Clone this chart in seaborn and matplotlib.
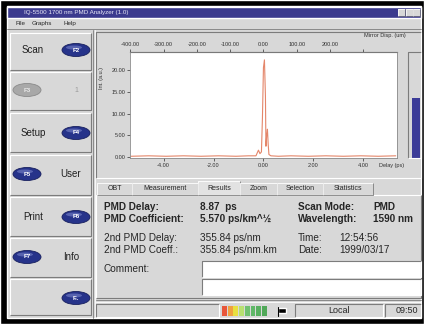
import matplotlib
matplotlib.use("Agg")
import matplotlib.pyplot as plt
from matplotlib.patches import Rectangle, Ellipse
import seaborn as sns
import pandas as pd

# interferogram: delay (ps) vs intensity (a.u.)
delay_ps = [-5.30, -4.60, -3.90, -3.20, -2.50, -1.80, -1.10, -0.60, -0.30, -0.20,
            -0.14, -0.08, -0.04, 0.00, 0.04, 0.08, 0.10, 0.13, 0.16, 0.19,
            0.22, 0.30, 0.60, 1.10, 1.80, 2.50, 3.20, 3.90, 4.60, 5.30]
intensity = [0.2, 0.3, 0.2, 0.3, 0.2, 0.3, 0.2, 0.3, 0.3, 1.6,
             0.8, 1.2, 9.0, 20.5, 22.3, 14.0, 2.5, 5.0, 6.4, 3.0,
             0.6, 0.3, 0.2, 0.3, 0.2, 0.3, 0.2, 0.3, 0.2, 0.3]

delay_ticks = [-4, -2, 0, 2, 4]
intensity_ticks = [0, 5, 10, 15, 20]
mirror_ticks = [-400, -300, -200, -100, 0, 100, 200, 300]
um_per_ps = 75.0

tab_names = ["OBT", "Measurement", "Results", "Zoom", "Selection", "Statistics"]
result_rows = [
    ("PMD Delay:", "8.87  ps", "Scan Mode:", "PMD"),
    ("PMD Coefficient:", "5.570 ps/km^½", "Wavelength:", "1590 nm"),
    ("2nd PMD Delay:", "355.84 ps/nm", "Time:", "12:54:56"),
    ("2nd PMD Coeff.:", "355.84 ps/nm.km", "Date:", "1999/03/17"),
]
side_buttons = [("Scan", "F2", "right"), ("", "F3", "left"), ("Setup", "F4", "right"),
                ("User", "F5", "left"), ("Print", "F6", "right"), ("Info", "F7", "left"),
                ("", "F..", "right")]
led_colors = ["#e8563a", "#f0a040", "#e8e040", "#b8e070", "#70c070", "#60b868", "#58b060", "#50a858"]

sns.set_style("white")
plt.rcParams["font.family"] = ["Liberation Sans", "DejaVu Sans"]

W, H = 424, 324
FACE = "#d8d8d8"
DARK = "#7c7c7c"

fig = plt.figure(figsize=(W / 100, H / 100), dpi=100)
bg = fig.add_axes([0, 0, 1, 1])
bg.set_xlim(0, W)
bg.set_ylim(H, 0)
bg.axis("off")


def box(x0, y0, x1, y1, face=FACE, raised=True, lw=0.8):
    bg.add_patch(Rectangle((x0, y0), x1 - x0, y1 - y0, facecolor=face, edgecolor="none"))
    light, dark = ("white", DARK) if raised else (DARK, "white")
    bg.plot([x0, x0, x1], [y1, y0, y0], color=light, lw=lw, solid_capstyle="butt")
    bg.plot([x0, x1, x1], [y1, y1, y0], color=dark, lw=lw, solid_capstyle="butt")


def txt(x, y, s, size=6.5, **kw):
    bg.text(x, y, s, fontsize=size, va="center", **kw)


# outer frame + window
bg.add_patch(Rectangle((0, 0), W, H, facecolor="black"))
bg.add_patch(Rectangle((7, 6), 414, 312, facecolor=FACE))

# title bar
bg.add_patch(Rectangle((7, 7), 414, 11, facecolor="#3b3a8e"))
txt(24, 12.5, "IQ-5500 1700 nm PMD Analyzer (1.0)", size=4.5, color="#e8e8f8")
for bx in (398, 406, 413):
    box(bx, 9, bx + 7, 16, lw=0.5)

# menu
bg.plot([7, 421], [29, 29], color=DARK, lw=0.6)
txt(15, 23.5, "File", size=4.5)
txt(32, 23.5, "Graphs", size=4.5)
txt(63, 23.5, "Help", size=4.5)

# side buttons
btn_rows = [(33, 70), (72, 110), (113, 152), (155, 195), (197, 236), (238, 277), (279, 315)]
oval_y = [50, 90, 133, 174, 217, 257, 298]
for (label, key, side), (y0, y1), oy in zip(side_buttons, btn_rows, oval_y):
    box(10, y0, 91, y1)
    ox = 76 if side == "right" else 27
    lx = 33 if side == "right" else 71
    if key == "F3":
        bg.add_patch(Ellipse((ox, oy), 28, 13, facecolor="#a8a8a8", edgecolor="#8a8a8a", lw=0.6))
        txt(ox, oy, key, size=4.5, color="#e8e8e8", ha="center", fontweight="bold")
        txt(lx + 5, oy, "1", size=5, color="#9a9a9a", ha="center")
        continue
    bg.add_patch(Ellipse((ox, oy), 28, 13, facecolor="#26338a", edgecolor="#18205e", lw=0.6))
    bg.add_patch(Ellipse((ox - 2, oy - 2.5), 16, 4, facecolor="#6d78c0", edgecolor="none", alpha=0.7))
    txt(ox, oy, key, size=4.5, color="white", ha="center", fontweight="bold")
    if label:
        txt(lx, oy, label, size=7, ha="center", color="#202020")

bg.plot([93, 93], [30, 318], color=DARK, lw=0.6)
bg.plot([94.5, 94.5], [30, 318], color="white", lw=0.6)

# graph panel
box(96, 32, 421, 178, raised=False)
box(408, 52, 421, 158, raised=False)
bg.add_patch(Rectangle((412, 98), 8, 60, facecolor="#3c3c98", edgecolor="none"))

# tabs + results
box(96, 195, 421, 298)
for name, (x0, x1) in zip(tab_names, [(97, 132), (132, 198), (198, 240), (240, 277), (277, 323), (323, 373)]):
    active = name == "Results"
    box(x0, 183 if not active else 181, x1, 195, face="#e2e2e2" if active else FACE, lw=0.6)
    txt((x0 + x1) / 2, 189, name, size=5, ha="center")
bg.add_patch(Rectangle((199, 194), 40, 2, facecolor="#e2e2e2", edgecolor="none"))

row_y = [207, 219, 238, 250]
for (a, b, c, d), y, wt in zip(result_rows, row_y, ["bold", "bold", "normal", "normal"]):
    txt(104, y, a, size=7.2, fontweight=wt)
    txt(200, y, b, size=7.2, fontweight=wt)
    txt(298, y, c, size=7.2, fontweight=wt)
    txt(373 if wt == "bold" else 339, y, d, size=7.2, fontweight=wt)
txt(104, 269, "Comment:", size=7.2)
box(202, 261, 421, 277, face="white", raised=False)
box(202, 279, 421, 295, face="white", raised=False)

# status bar
bg.plot([96, 421], [300, 300], color=DARK, lw=0.6)
bg.plot([96, 421], [301.5, 301.5], color="white", lw=0.6)
box(96, 304, 219, 317, raised=False)
for i, c in enumerate(led_colors):
    bg.add_patch(Rectangle((222 + i * 5.7, 306), 4.8, 10, facecolor=c, edgecolor="none"))
bg.add_patch(Rectangle((278, 308), 8, 5, facecolor="black"))
bg.plot([278, 278], [307, 316], color="black", lw=0.8)
box(295, 304, 383, 317, raised=False)
txt(339, 310.5, "Local", size=6.5, ha="center")
box(385, 304, 421, 317, raised=False)
txt(407, 310.5, "09:50", size=6.5, ha="center")

# the chart
ax = fig.add_axes([130 / W, 1 - 158 / H, 267 / W, 106 / H])
df = pd.DataFrame({"delay": delay_ps, "intensity": intensity})
sns.lineplot(data=df, x="delay", y="intensity", ax=ax, color="#e4866a", linewidth=0.8)
ax.set_facecolor("white")
ax.set_xlim(-5.345, 5.35)
ax.set_ylim(-0.2, 24.1)
ax.set_xticks(delay_ticks)
ax.set_xticklabels([f"{v:.2f}" for v in delay_ticks])
ax.set_yticks(intensity_ticks)
ax.set_yticklabels([f"{v:.2f}" for v in intensity_ticks])
ax.set_xlabel("")
ax.set_ylabel("")
ax.tick_params(axis="both", labelsize=4, length=2, width=0.5, pad=1.5, colors="#303030", direction="out")
ax.tick_params(axis="x", bottom=True)
ax.tick_params(axis="y", left=True)
for sp in ax.spines.values():
    sp.set_color("#8a8a8a")
    sp.set_linewidth(0.6)

top = ax.secondary_xaxis("top", functions=(lambda p: p * um_per_ps, lambda u: u / um_per_ps))
top.set_xticks(mirror_ticks)
top.set_xticklabels([f"{v:.2f}" if v < 300 else "" for v in mirror_ticks])
top.tick_params(labelsize=4, length=2, width=0.5, pad=1.5, colors="#303030")

txt(385, 35, "Mirror Disp. (um)", size=4, color="#303030", ha="center")
txt(392, 165, "Delay (ps)", size=4, color="#303030", ha="center")
bg.text(101, 78, "Int. (a.u.)", fontsize=4, rotation=90, ha="center", va="center", color="#303030")

fig.savefig("out.png", dpi=100)
